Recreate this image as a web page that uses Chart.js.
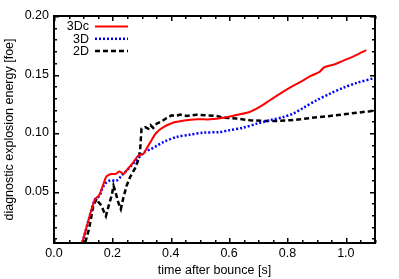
<!DOCTYPE html>
<html>
<head>
<meta charset="utf-8">
<script src="https://cdn.jsdelivr.net/npm/chart.js@4/dist/chart.umd.min.js"></script>
<style>
html,body{margin:0;padding:0;background:#fff;}
</style>
</head>
<body>
<canvas id="c" width="399" height="279"></canvas>
<script>
// ---- data ----
const seriesNames = ['3Dc', '3D', '2D'];

const t3Dc = [0.09,0.10,0.12,0.14,0.155,0.17,0.18,0.195,0.21,0.225,0.238,0.255,0.272,0.29,0.306,0.318,0.33,0.35,0.375,0.41,0.445,0.49,0.535,0.58,0.625,0.67,0.705,0.74,0.775,0.81,0.845,0.88,0.91,0.925,0.96,0.99,1.03,1.07];
const e3Dc = [0.000,0.009,0.027,0.043,0.047,0.057,0.063,0.065,0.065,0.067,0.065,0.070,0.075,0.081,0.082,0.087,0.092,0.100,0.105,0.109,0.1106,0.1117,0.1117,0.113,0.1154,0.118,0.1223,0.128,0.1337,0.139,0.1437,0.1488,0.1523,0.1560,0.1586,0.1617,0.1660,0.1709];

const t3D = [0.09,0.10,0.12,0.14,0.155,0.165,0.175,0.192,0.215,0.232,0.249,0.266,0.28,0.295,0.31,0.33,0.352,0.375,0.42,0.466,0.512,0.567,0.60,0.649,0.695,0.74,0.786,0.82,0.854,0.90,0.946,0.991,1.037,1.10];
const e3D = [0.000,0.009,0.027,0.043,0.046,0.052,0.0566,0.0594,0.0594,0.0637,0.068,0.0723,0.076,0.080,0.084,0.086,0.089,0.0923,0.0966,0.0986,0.1003,0.1008,0.1023,0.1046,0.108,0.1109,0.1137,0.1166,0.1215,0.128,0.1337,0.1386,0.1428,0.1471];

const t2D = [0.10,0.12,0.135,0.146,0.152,0.158,0.164,0.169,0.178,0.186,0.198,0.204,0.209,0.221,0.229,0.238,0.249,0.26,0.278,0.289,0.295,0.30,0.312,0.323,0.331,0.34,0.352,0.369,0.386,0.403,0.42,0.432,0.455,0.489,0.523,0.558,0.58,0.626,0.672,0.717,0.763,0.809,0.843,0.877,0.946,1.014,1.083,1.10];
const e2D = [0.000,0.018,0.038,0.0437,0.041,0.0395,0.037,0.034,0.029,0.0366,0.047,0.055,0.051,0.040,0.035,0.045,0.055,0.062,0.070,0.077,0.085,0.1037,0.105,0.1037,0.1066,0.1043,0.108,0.110,0.1128,0.1151,0.1146,0.1157,0.1146,0.1157,0.1151,0.1146,0.1132,0.1123,0.1109,0.1103,0.1103,0.1109,0.1117,0.1128,0.1146,0.1166,0.1186,0.1194];

const xTickLabels = ['0.0','0.2','0.4','0.6','0.8','1.0'];
const xMajorTicks = [0, 0.2, 0.4, 0.6, 0.8, 1.0];
const xMinorTicks = [0,0.05,0.1,0.15,0.2,0.25,0.3,0.35,0.4,0.45,0.5,0.55,0.6,0.65,0.7,0.75,0.8,0.85,0.9,0.95,1.0,1.05,1.1];
const yTickLabels = ['0.05','0.10','0.15','0.20'];
const yMajorTicks = [0.05, 0.10, 0.15, 0.20];
const yMinorTicks = [0.01,0.02,0.03,0.04,0.05,0.06,0.07,0.08,0.09,0.10,0.11,0.12,0.13,0.14,0.15,0.16,0.17,0.18,0.19,0.20];

const xTitle = 'time after bounce [s]';
const yTitle = 'diagnostic explosion energy [foe]';

// ---- build ----
const toPts = (t, e) => t.map((v, i) => ({x: v, y: e[i]}));
const FONT = "'Liberation Sans', Arial, Helvetica, sans-serif";

function isMajor(list, v){ return list.some(m => Math.abs(m - v) < 1e-6); }
function labelFor(list, labels, v){
  const i = list.findIndex(m => Math.abs(m - v) < 1e-6);
  return i >= 0 ? labels[i] : '';
}

function drawFrame(chart){
  const ctx = chart.ctx, a = chart.chartArea;
  const xs = chart.scales.x, ys = chart.scales.y;
  const L = a.left, R = a.right, T = a.top, B = a.bottom;
  ctx.save();
  ctx.fillStyle = '#000';
  ctx.fillRect(L - 1, T - 1, R - L + 2, 2);
  ctx.fillRect(L - 1, B - 1, R - L + 2, 2);
  ctx.fillRect(L - 1, T - 1, 2, B - T + 2);
  ctx.fillRect(R - 1, T - 1, 2, B - T + 2);
  for (const v of xMinorTicks) {
    const p = Math.round(xs.getPixelForValue(v));
    const len = isMajor(xMajorTicks, v) ? 5 : 3;
    ctx.fillRect(p, B - len, 1.3, len);
    ctx.fillRect(p, T, 1.3, len);
  }
  for (const v of yMinorTicks) {
    const p = Math.round(ys.getPixelForValue(v));
    const len = isMajor(yMajorTicks, v) ? 5 : 3;
    ctx.fillRect(L, p, len, 1.3);
    ctx.fillRect(R - len, p, len, 1.3);
  }
  ctx.restore();
}

const frameAndTicks = {
  id: 'frameAndTicks',
  beforeDatasetsDraw(chart){ drawFrame(chart); },
  afterDraw(chart){
    drawFrame(chart);
    const ctx = chart.ctx, a = chart.chartArea;
    const L = a.left, T = a.top;
    ctx.save();
    ctx.font = '12.5px ' + FONT;
    ctx.textAlign = 'right';
    ctx.textBaseline = 'middle';
    chart.data.datasets.forEach((ds, i) => {
      const y = T + 10.5 + i * 12.3;
      ctx.fillStyle = '#000';
      ctx.fillText(ds.label, L + 35, y + 0.5);
      ctx.strokeStyle = ds.borderColor;
      ctx.lineWidth = ds.borderWidth;
      ctx.setLineDash(ds.borderDash || []);
      ctx.beginPath();
      ctx.moveTo(L + 41, y);
      ctx.lineTo(L + 74, y);
      ctx.stroke();
      ctx.setLineDash([]);
    });
    ctx.restore();
  }
};

new Chart(document.getElementById('c'), {
  type: 'line',
  data: {
    datasets: [
      {label: seriesNames[0], data: toPts(t3Dc, e3Dc), borderColor: '#ff0000', borderWidth: 2, pointRadius: 0, tension: 0.3, fill: false},
      {label: seriesNames[1], data: toPts(t3D, e3D), borderColor: '#0000ff', borderWidth: 2.5, borderDash: [2, 2], pointRadius: 0, tension: 0.3, fill: false},
      {label: seriesNames[2], data: toPts(t2D, e2D), borderColor: '#000000', borderWidth: 2.5, borderDash: [5, 3], pointRadius: 0, tension: 0, fill: false}
    ]
  },
  options: {
    responsive: false,
    animation: false,
    devicePixelRatio: 1,
    layout: {padding: {top: 16, right: 24, left: 0, bottom: 0}},
    plugins: {legend: {display: false}, tooltip: {enabled: false}},
    scales: {
      x: {
        type: 'linear', min: 0, max: 1.1,
        afterBuildTicks: s => { s.ticks = xMajorTicks.map(v => ({value: v})); },
        afterFit: s => { s.height = 36; },
        grid: {display: false, drawTicks: false},
        border: {display: true, color: '#000', width: 1.5},
        ticks: {autoSkip: false, maxRotation: 0, padding: 3, color: '#000',
          font: {family: FONT, size: 12.5},
          callback: v => labelFor(xMajorTicks, xTickLabels, v)},
        title: {display: true, text: xTitle, color: '#000', font: {family: FONT, size: 12.5}, padding: {top: 0, bottom: 1}}
      },
      y: {
        type: 'linear', min: 0.006, max: 0.20,
        afterBuildTicks: s => { s.ticks = yMajorTicks.map(v => ({value: v})); },
        afterFit: s => { s.width = 54; },
        grid: {display: false, drawTicks: false},
        border: {display: true, color: '#000', width: 1.5},
        ticks: {autoSkip: false, padding: 5, color: '#000',
          font: {family: FONT, size: 12.5},
          callback: v => labelFor(yMajorTicks, yTickLabels, v)},
        title: {display: true, text: yTitle, color: '#000', font: {family: FONT, size: 12.5}, padding: {top: 2, bottom: 0}}
      }
    }
  },
  plugins: [frameAndTicks]
});
</script>
</body>
</html>
